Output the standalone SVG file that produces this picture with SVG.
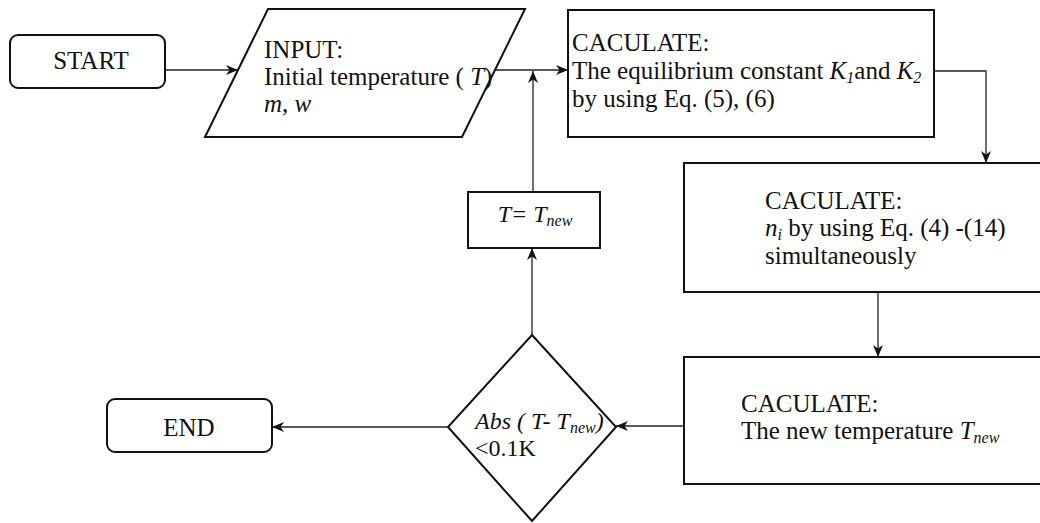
<svg xmlns="http://www.w3.org/2000/svg" width="1040" height="523" viewBox="0 0 1040 523">
  <style>
    .box { fill: #fff; stroke: #111; stroke-width: 2; }
    .link { fill: none; stroke: #222; stroke-width: 1.3; }
    .lbl { font-family: 'Liberation Serif', 'DejaVu Serif', serif; font-size: 25px; fill: #111; }
    .sm { font-size: 24px; }
    .it { font-style: italic; }
    .sub { font-size: 16px; font-style: italic; }
  </style>
  <defs>
    <marker id="arrow" viewBox="0 0 12 10" refX="12" refY="5" markerWidth="12" markerHeight="10" markerUnits="userSpaceOnUse" orient="auto">
      <path d="M0,0 L12,5 L0,10 L3.5,5 z" fill="#111"/>
    </marker>
  </defs>

  <!-- connectors -->
  <g id="connectors">
    <path class="link" d="M165,70 H238" marker-end="url(#arrow)"/>
    <path class="link" d="M494,70 H568" marker-end="url(#arrow)"/>
    <path class="link" d="M533,192 V71" marker-end="url(#arrow)"/>
    <path class="link" d="M934,71 H986 V163" marker-end="url(#arrow)"/>
    <path class="link" d="M878,292 V357" marker-end="url(#arrow)"/>
    <path class="link" d="M684,426 H616" marker-end="url(#arrow)"/>
    <path class="link" d="M532,335 V248" marker-end="url(#arrow)"/>
    <path class="link" d="M448,427 H272" marker-end="url(#arrow)"/>
  </g>

  <g class="lbl">
    <g id="start">
      <rect class="box" x="10" y="35" width="155" height="53" rx="8"/>
      <text x="91" y="69" text-anchor="middle">START</text>
    </g>

    <g id="input">
      <polygon class="box" points="268,9 525,9 462,137 205,137"/>
      <text x="264" y="58">INPUT:</text>
      <text x="264" y="85">Initial temperature ( <tspan class="it">T</tspan>)</text>
      <text x="264" y="112" class="it">m, w</text>
    </g>

    <g id="calc-k">
      <rect class="box" x="568" y="10" width="366" height="127"/>
      <text x="572" y="51">CACULATE:</text>
      <text x="572" y="79">The equilibrium constant <tspan class="it">K</tspan><tspan class="sub" dy="4">1</tspan><tspan dy="-4">and </tspan><tspan class="it">K</tspan><tspan class="sub" dy="4">2</tspan></text>
      <text x="572" y="107">by using Eq. (5), (6)</text>
    </g>

    <g id="calc-n">
      <rect class="box" x="684" y="163" width="360" height="129"/>
      <text x="765" y="209">CACULATE:</text>
      <text x="765" y="236"><tspan class="it">n</tspan><tspan class="sub" dy="4">i</tspan><tspan dy="-4"> by using Eq. (4) -(14)</tspan></text>
      <text x="765" y="264">simultaneously</text>
    </g>

    <g id="calc-t">
      <rect class="box" x="684" y="357" width="360" height="127"/>
      <text x="741" y="412">CACULATE:</text>
      <text x="741" y="439">The new temperature <tspan class="it">T</tspan><tspan class="sub" dy="4">new</tspan></text>
    </g>

    <g id="check">
      <polygon class="box" points="532,335 616,427 532,521 448,427"/>
      <text x="475" y="429" class="it sm">Abs ( T- T<tspan class="sub" dy="4">new</tspan><tspan dy="-4">)</tspan></text>
      <text x="475" y="456" class="sm">&lt;0.1K</text>
    </g>

    <g id="update">
      <rect class="box" x="468" y="192" width="132" height="56"/>
      <text x="535" y="222" class="it sm" text-anchor="middle">T= T<tspan class="sub" dy="4">new</tspan></text>
    </g>

    <g id="end">
      <rect class="box" x="107" y="399" width="165" height="53" rx="8"/>
      <text x="189" y="436" text-anchor="middle">END</text>
    </g>
  </g>
</svg>
